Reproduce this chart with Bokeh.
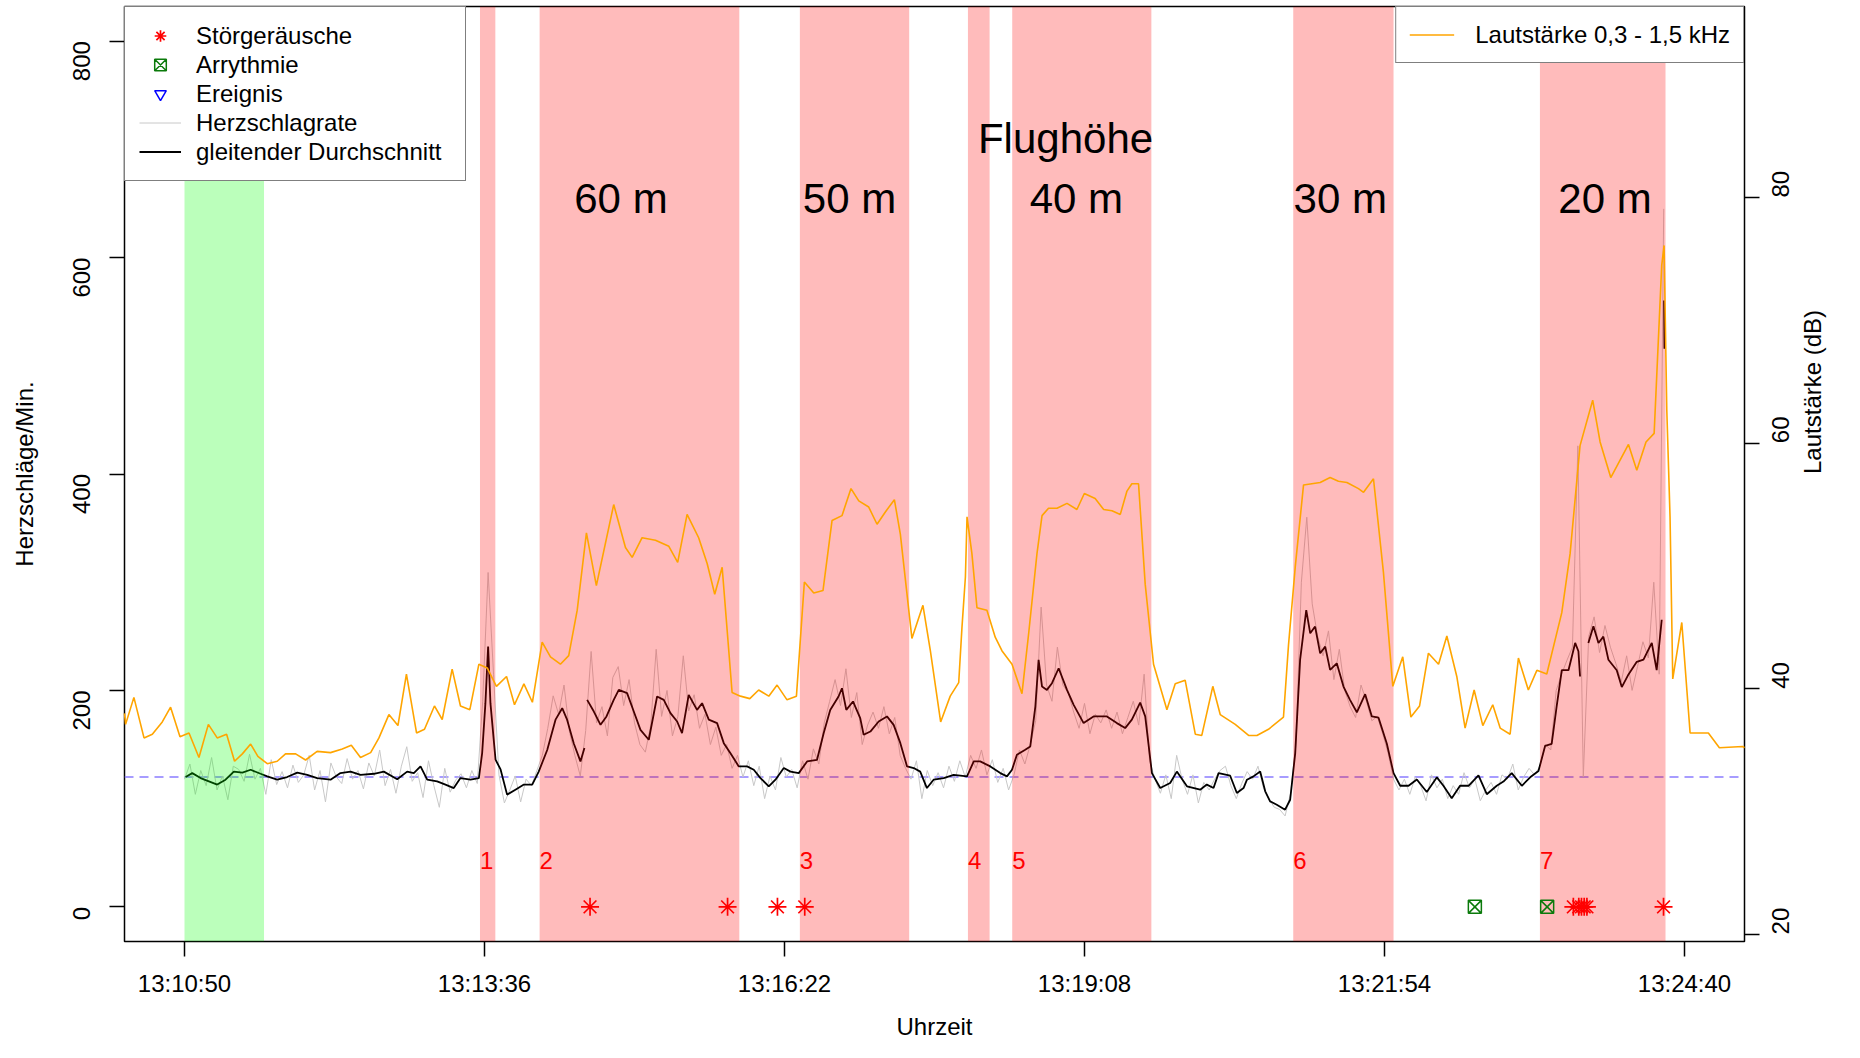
import math
from bokeh.plotting import figure
from bokeh.models import (Range1d, LinearAxis, FixedTicker, BoxAnnotation, Span,
                          Legend, LegendItem)
from bokeh.core.properties import value
from bokeh.embed import file_html
from bokeh.resources import INLINE

NAN = float("nan")
FONT = "Liberation Sans"

# ---- axes (x = seconds after 13:10:50) ----
tick_seconds = [0, 166, 332, 498, 664, 830]
tick_labels = ["13:10:50", "13:13:36", "13:16:22", "13:19:08", "13:21:54", "13:24:40"]
x_range_limits = [-33.2, 863.2]
hr_ticks = [0, 200, 400, 600, 800]
hr_range_limits = [-32, 832]
db_ticks = [20, 40, 60, 80]
db_range_limits = [19.42, 95.56]
baseline_hr = 120

# ---- shaded phases ----
calib_start = [0]
calib_end = [44]
phase_start = [163.5, 196.5, 340.5, 433.5, 458, 613.5, 750]
phase_end = [172, 307, 401, 445.5, 535, 669, 819.5]
phase_labels = ["1", "2", "3", "4", "5", "6", "7"]
phase_label_y = [43, 43, 43, 43, 43, 43, 43]

altitude_labels = ["60 m", "50 m", "40 m", "30 m", "20 m"]
altitude_x = [241.5, 368, 493.5, 639.5, 786]
altitude_y = [655, 655, 655, 655, 655]
altitude_title = ["Flughöhe"]
altitude_title_x = [487.5]
altitude_title_y = [710]

# ---- events ----
noise_t = [224.4, 300.5, 328.1, 343.2, 768.5, 771.5, 773, 774.5, 776, 818.4]
noise_v = [0, 0, 0, 0, 0, 0, 0, 0, 0, 0]
arrhythmia_t = [714, 754]
arrhythmia_v = [0, 0]
event_t = [NAN]
event_v = [NAN]

# ---- raw heart rate (every 3 s) ----
raw_t = list(range(0, 817, 3)) + [818.5]
raw_v = [
    118, 132, 104, 126, 112, 138, 108, 121, 99, 130,
    127, 116, 141, 118, 128, 104, 136, 113, 125, 110,
    131, 115, 122, 140, 108, 126, 97, 133, 120, 114,
    137, 118, 126, 109, 133, 121, 145, 112, 127, 105,
    130, 148, 116, 124, 101, 135, 112, 92, 128, 106,
    117, 123, 110, 126, 114, 190, 309, 215, 122, 96,
    108, 121, 97, 118, 112, 126, 140, 165, 195, 178,
    205, 162, 140, 121, 163, 236, 170, 185, 158, 212,
    222, 186, 210, 170, 150, 143, 168, 238, 176, 200,
    158, 176, 232, 181, 196, 165, 178, 150, 166, 140,
    150, 128, 140, 120, 135, 112, 130, 100, 121, 108,
    138, 120, 127, 110, 135, 118, 146, 132, 170, 190,
    210, 186, 220, 175, 198, 150, 168, 180, 165, 185,
    160, 175, 140, 128, 118, 135, 100, 126, 112, 124,
    110, 130, 116, 135, 120, 140, 128, 145, 122, 136,
    115, 128, 108, 122, 145, 132, 150, 172, 277, 205,
    190, 240, 205, 198, 180, 165, 188, 160, 178, 170,
    182, 165, 180, 160, 175, 190, 168, 215, 135, 118,
    105, 122, 100, 140, 118, 104, 122, 96, 115, 108,
    118, 126, 130, 112, 100, 114, 125, 118, 130, 110,
    100, 92, 90, 84, 105, 150, 300, 360, 280, 250,
    232, 255, 210, 238, 200, 185, 175, 205, 190, 172,
    176, 160, 142, 118, 108, 118, 104, 120, 112, 98,
    122, 110, 118, 100, 112, 104, 124, 110, 118, 98,
    108, 115, 104, 122, 118, 132, 108, 120, 128, 122,
    130, 150, 145, 200, 215, 228, 240, 426, 120, 250,
    268, 235, 260, 240, 225, 208, 232, 200, 222, 245,
    230, 300, 215, 645,
]

# ---- moving average ----
avg_t = [
    0.6, 4.3, 8.9, 13.5, 18.1, 22.7, 27.3, 32.0, 36.6, 42.1,
    45.8, 51.3, 56.8, 62.4, 67.9, 73.4, 80.8, 86.3, 91.9, 97.4,
    104.8, 110.3, 117.7, 123.2, 126.9, 130.6, 134.3, 139.8, 144.4, 149.0,
    152.7, 158.2, 162.9, 164.7, 166.5, 168.0, 169.3, 172.1, 174.9, 178.5,
    183.1, 187.8, 192.4, 196.0, 200.7, 205.3, 209.0, 211.7, 215.4, 219.1,
    221.3, 222.0, 222.8, 226.5, 230.2, 233.5, 237.5, 240.3, 244.9, 248.6,
    252.3, 256.9, 261.5, 265.2, 268.9, 272.6, 275.3, 279.0, 283.6, 286.4,
    290.1, 294.7, 298.4, 302.1, 306.7, 311.3, 315.0, 318.7, 323.3, 327.0,
    331.6, 335.3, 339.9, 344.5, 350.0, 353.7, 357.3, 361.9, 363.8, 366.2,
    369.9, 373.9, 375.8, 379.5, 384.1, 388.7, 392.4, 396.1, 399.8, 403.5,
    407.1, 410.8, 414.5, 420.1, 425.6, 433.0, 436.7, 440.3, 445.9, 451.4,
    455.1, 457.9, 460.6, 465.2, 468.0, 470.8, 472.6, 474.5, 477.2, 480.0,
    483.7, 488.3, 492.0, 497.5, 503.0, 510.4, 515.9, 520.5, 524.2, 528.8,
    531.6, 535.3, 539.9, 545.4, 549.1, 554.7, 562.0, 565.7, 569.4, 572.2,
    578.6, 582.3, 586.0, 587.9, 591.5, 595.2, 598.0, 600.7, 604.4, 609.0,
    611.8, 614.6, 617.3, 620.7, 622.9, 625.6, 628.4, 631.2, 633.9, 637.6,
    641.3, 644.9, 648.7, 653.3, 657.0, 660.7, 665.3, 669.0, 672.7, 677.3,
    681.9, 687.4, 693.0, 696.6, 701.2, 705.8, 710.5, 716.0, 720.6, 726.1,
    729.8, 734.4, 740.0, 744.6, 749.2, 752.9, 756.5, 759.3, 762.1, 765.8,
    769.5, 771.3, 772.2, 774.5, 776.8, 779.6, 782.4, 785.1, 787.9, 792.5,
    795.3, 799.0, 803.6, 807.3, 811.9, 814.6, 817.4, 818.0, 818.7, 818.9,
]
avg_v = [
    120, 123.6, 119, 116, 113, 117.5, 125, 124, 126.7, 123,
    120.6, 117.5, 120, 124, 122, 119, 117.5, 123.6, 125, 122,
    123, 125, 118, 125, 123.6, 129.8, 117.5, 116, 113, 109.8,
    119, 117.5, 119, 142, 188, 240.5, 188, 136, 127, 103.7,
    108.3, 113, 113, 125, 145, 173, 183.6, 173, 151, 134.4,
    146.7, NAN, 191.3, 180.5, 168.2, 176, 191.3, 200.5, 197.5, 180.5,
    163.6, 154.4, 194.4, 191.3, 179, 171.3, 160.6, 195.9, 182, 188.2,
    173, 169.8, 151.3, 142, 129.8, 129.8, 126.7, 119, 111.4, 117.5,
    128.3, 125, 123.6, 134.4, 135.9, 160.6, 182, 194.4, 202, 182,
    189.8, 174.4, 159, 162, 171.3, 176, 168.2, 151.3, 129.8, 128.3,
    125, 109.8, 117.5, 119, 122, 120.6, 134.4, 134.4, 129.8, 123.6,
    120.6, 126.7, 140.6, 145.2, 148.3, 185.1, 228.2, 203.6, 200.5, 206.7,
    220.5, 200.5, 186.7, 169.8, 176, 176, 169.8, 165.2, 173, 188.8,
    176, 123.6, 109.8, 114.4, 125, 111.4, 108.3, 113, 109.8, 123.6,
    121.2, 105.2, 109.8, 117.5, 120.6, 125, 106.8, 97.5, 94.4, 89.8,
    99, 142, 228.2, 274.3, 252.8, 259, 234.3, 240.5, 219, 225.1,
    203.6, 191.3, 179.8, 196.5, 176, 174.8, 150.7, 123.6, 111.9, 111.9,
    117.7, 106.1, 119.7, 111.9, 100.3, 111.9, 111.9, 121.6, 104.1, 111.9,
    115.8, 123.6, 111.9, 119.7, 125.5, 148.8, 150.7, 185.7, 218.7, 218.7,
    243.9, 236.2, 212.9, NAN, 243.9, 259.4, 243.9, 249.7, 228.4, 218.7,
    203.1, 214.8, 226.4, 228.4, 243.9, 218.7, 265.3, NAN, 560.3, 515.7,
]

# ---- loudness 0.3 - 1.5 kHz (dB) ----
db_t = [
    -33.2, -32.6, -28.0, -22.4, -17.8, -12.3, -7.7, -2.5, 2.5, 8.0,
    13.2, 18.1, 23.3, 27.7, 32.0, 36.6, 40.6, 45.8, 51.3, 55.9,
    61.5, 67.0, 73.4, 80.8, 87.3, 92.3, 97.4, 103.0, 107.6, 113.1,
    118.1, 122.8, 128.4, 132.8, 138.3, 142.6, 148.1, 152.7, 157.9, 162.9,
    167.5, 172.6, 178.2, 182.6, 187.8, 192.5, 197.9, 202.5, 208.0, 212.6,
    217.3, 222.4, 227.9, 237.5, 244.0, 247.7, 253.2, 260.6, 268.0, 272.9,
    278.1, 284.5, 289.2, 293.4, 297.5, 303.0, 307.6, 312.8, 317.7, 323.3,
    327.9, 333.4, 338.6, 343.0, 348.2, 353.3, 358.3, 363.8, 368.8, 373.1,
    378.6, 383.2, 387.8, 392.8, 396.1, 402.5, 408.6, 412.7, 418.4, 423.7,
    428.4, 430.2, 432.1, 433.0, 435.7, 438.5, 444.0, 448.6, 452.3, 457.9,
    463.4, 467.1, 471.7, 474.5, 478.1, 482.8, 488.3, 493.8, 497.9, 503.9,
    508.6, 513.2, 517.8, 521.5, 524.2, 527.9, 531.6, 536.2, 543.6, 548.2,
    553.7, 559.3, 562.9, 569.0, 573.1, 581.4, 588.8, 593.4, 599.8, 608.1,
    610.9, 614.6, 619.2, 628.4, 633.9, 638.5, 643.2, 649.6, 652.4, 657.9,
    663.4, 668.6, 674.1, 678.6, 683.4, 688.3, 693.9, 698.5, 704.0, 708.6,
    713.6, 718.4, 723.9, 728.0, 733.5, 738.1, 743.6, 748.3, 753.8, 762.1,
    766.7, 772.2, 779.2, 783.3, 789.2, 799.0, 803.6, 808.7, 813.2, 817.4,
    818.7, 820.2, 822.0, 823.5, 828.5, 833.1, 843.2, 849.3, 862.2, 863.2,
]
db_v = [
    38.0, 37.1, 39.3, 36.0, 36.3, 37.3, 38.5, 36.1, 36.4, 34.4,
    37.1, 36.0, 36.3, 34.1, 34.7, 35.5, 34.5, 33.9, 34.1, 34.7,
    34.7, 34.2, 34.9, 34.8, 35.1, 35.4, 34.4, 34.8, 36.0, 37.9,
    37.0, 41.2, 36.4, 36.7, 38.6, 37.5, 41.6, 38.6, 38.3, 42.0,
    41.7, 40.2, 41.0, 38.7, 40.4, 38.9, 43.8, 42.6, 42.0, 42.7,
    46.4, 52.7, 48.4, 55.0, 51.5, 50.7, 52.3, 52.1, 51.6, 50.3,
    54.2, 52.3, 50.2, 47.7, 49.9, 39.7, 39.4, 39.2, 39.9, 39.4,
    40.3, 39.1, 39.4, 48.7, 47.8, 48.0, 53.7, 54.1, 56.3, 55.3,
    54.8, 53.4, 54.4, 55.4, 52.6, 44.1, 46.8, 43.1, 37.3, 39.4,
    40.5, 45.0, 49.1, 54.0, 51.0, 46.6, 46.4, 44.2, 43.1, 42.0,
    39.6, 44.5, 51.0, 54.1, 54.7, 54.7, 55.1, 54.6, 55.9, 55.5,
    54.6, 54.5, 54.2, 56.1, 56.7, 56.7, 48.5, 42.0, 38.3, 40.4,
    40.7, 36.3, 36.2, 40.2, 37.9, 37.1, 36.2, 36.2, 36.7, 37.7,
    43.6, 49.9, 56.6, 56.8, 57.2, 56.9, 56.8, 56.3, 56.0, 57.1,
    49.5, 40.2, 42.6, 37.7, 38.6, 42.9, 42.0, 44.3, 41.0, 36.8,
    39.9, 37.0, 38.7, 36.8, 36.3, 42.5, 39.9, 41.5, 41.2, 46.2,
    51.0, 59.8, 63.5, 60.1, 57.2, 59.9, 57.8, 60.1, 60.8, 74.5,
    76.1, 62.7, 54.0, 40.8, 45.4, 36.4, 36.4, 35.2, 35.3, 35.2,
]

# ---------------- figure ----------------
p = figure(width=1844, height=1042, output_backend="svg", toolbar_location=None,
           x_range=Range1d(*x_range_limits), y_range=Range1d(*hr_range_limits),
           min_border_left=124, min_border_right=100, min_border_top=6,
           min_border_bottom=101)
p.extra_y_ranges = {"db": Range1d(*db_range_limits)}
p.background_fill_color = "white"
p.border_fill_color = "white"
p.outline_line_color = "black"
p.outline_line_width = 1.5
p.xgrid.visible = False
p.ygrid.visible = False

def style_axis(ax):
    ax.axis_line_color = None
    ax.major_tick_line_color = "black"
    ax.major_tick_line_width = 1.5
    ax.major_tick_out = 15
    ax.major_tick_in = 0
    ax.minor_tick_line_color = None
    ax.major_label_text_font = FONT
    ax.major_label_text_font_size = "24px"
    ax.major_label_text_color = "black"
    ax.axis_label_text_font = FONT
    ax.axis_label_text_font_size = "24px"
    ax.axis_label_text_font_style = "normal"
    ax.axis_label_text_color = "black"

xa = p.xaxis[0]
style_axis(xa)
xa.ticker = FixedTicker(ticks=tick_seconds)
xa.major_label_overrides = {t: lab for t, lab in zip(tick_seconds, tick_labels)}
xa.major_label_standoff = 13
xa.axis_label = "Uhrzeit"
xa.axis_label_standoff = 13

ya = p.yaxis[0]
style_axis(ya)
ya.ticker = FixedTicker(ticks=hr_ticks)
ya.major_label_orientation = math.pi / 2
ya.major_label_standoff = 28
ya.axis_label = "Herzschläge/Min."
ya.axis_label_standoff = 24

ra = LinearAxis(y_range_name="db", ticker=FixedTicker(ticks=db_ticks))
style_axis(ra)
ra.major_label_orientation = math.pi / 2
ra.major_label_standoff = 21
ra.axis_label = "Lautstärke (dB)"
ra.axis_label_standoff = 12
try:
    ra.axis_label_orientation = math.pi / 2
except Exception:
    pass
p.add_layout(ra, "right")

# data lines
r_raw = p.line(raw_t, raw_v, line_color="#C8C8C8", line_width=1)
r_avg = p.line(avg_t, avg_v, line_color="black", line_width=1.8)
p.add_layout(Span(location=baseline_hr, dimension="width", line_color="#8A7CFF",
                  line_width=1.5, line_dash="9 6", level="underlay"))

# shaded phases (drawn over the heart-rate lines)
for a, b in zip(calib_start, calib_end):
    p.add_layout(BoxAnnotation(left=a, right=b, fill_color="#00FF00", fill_alpha=0.267,
                               line_color=None))
for a, b in zip(phase_start, phase_end):
    p.add_layout(BoxAnnotation(left=a, right=b, fill_color="#FF0000", fill_alpha=0.267,
                               line_color=None))

r_db = p.line(db_t, db_v, line_color="orange", line_width=1.6, y_range_name="db")
r_db.level = "overlay"

r_noise = p.scatter(noise_t, noise_v, marker="asterisk", size=18, line_color="red",
                    line_width=1.7)
r_noise.level = "overlay"
r_arr = p.scatter(arrhythmia_t, arrhythmia_v, marker="square_x", size=13,
                  line_color="#0B7A0B", fill_color=None, line_width=1.5)
r_arr.level = "overlay"
r_evt = p.scatter(event_t, event_v, marker="inverted_triangle", size=13, line_color="blue",
                  fill_color=None, line_width=1.5)

r_num = p.text(x=phase_start, y=phase_label_y, text=phase_labels, text_color="red",
               text_font=value(FONT), text_font_size="24px", text_align="left",
               text_baseline="middle")
r_num.level = "overlay"
r_alt = p.text(x=altitude_x, y=altitude_y, text=altitude_labels, text_color="black",
               text_font=value(FONT), text_font_size="42px", text_align="center",
               text_baseline="middle")
r_alt.level = "overlay"
r_title = p.text(x=altitude_title_x, y=altitude_title_y, text=altitude_title,
                 text_color="black", text_font=value(FONT), text_font_size="42px",
                 text_align="center", text_baseline="middle")
r_title.level = "overlay"

leg1 = Legend(items=[
    LegendItem(label="Störgeräusche", renderers=[r_noise]),
    LegendItem(label="Arrythmie", renderers=[r_arr]),
    LegendItem(label="Ereignis", renderers=[r_evt]),
    LegendItem(label="Herzschlagrate", renderers=[r_raw]),
    LegendItem(label="gleitender Durchschnitt", renderers=[r_avg]),
], location="top_left")
leg1.label_width = 255
leg2 = Legend(items=[LegendItem(label="Lautstärke 0,3 - 1,5 kHz", renderers=[r_db])],
              location="top_right")
for lg, pad, gw, st in ((leg1, 14, 42, 15), (leg2, 13, 45, 21)):
    lg.margin = 0
    lg.padding = pad
    lg.spacing = 0
    lg.glyph_width = gw
    lg.glyph_height = 29
    lg.label_height = 29
    lg.label_standoff = st
    lg.label_text_font = FONT
    lg.label_text_font_size = "24px"
    lg.label_text_color = "black"
    lg.border_line_color = "black"
    lg.border_line_width = 1.5
    lg.background_fill_color = "white"
    lg.background_fill_alpha = 1.0
    lg.level = "overlay"
    p.add_layout(lg)

open("out.html", "w").write(file_html(p, INLINE))
